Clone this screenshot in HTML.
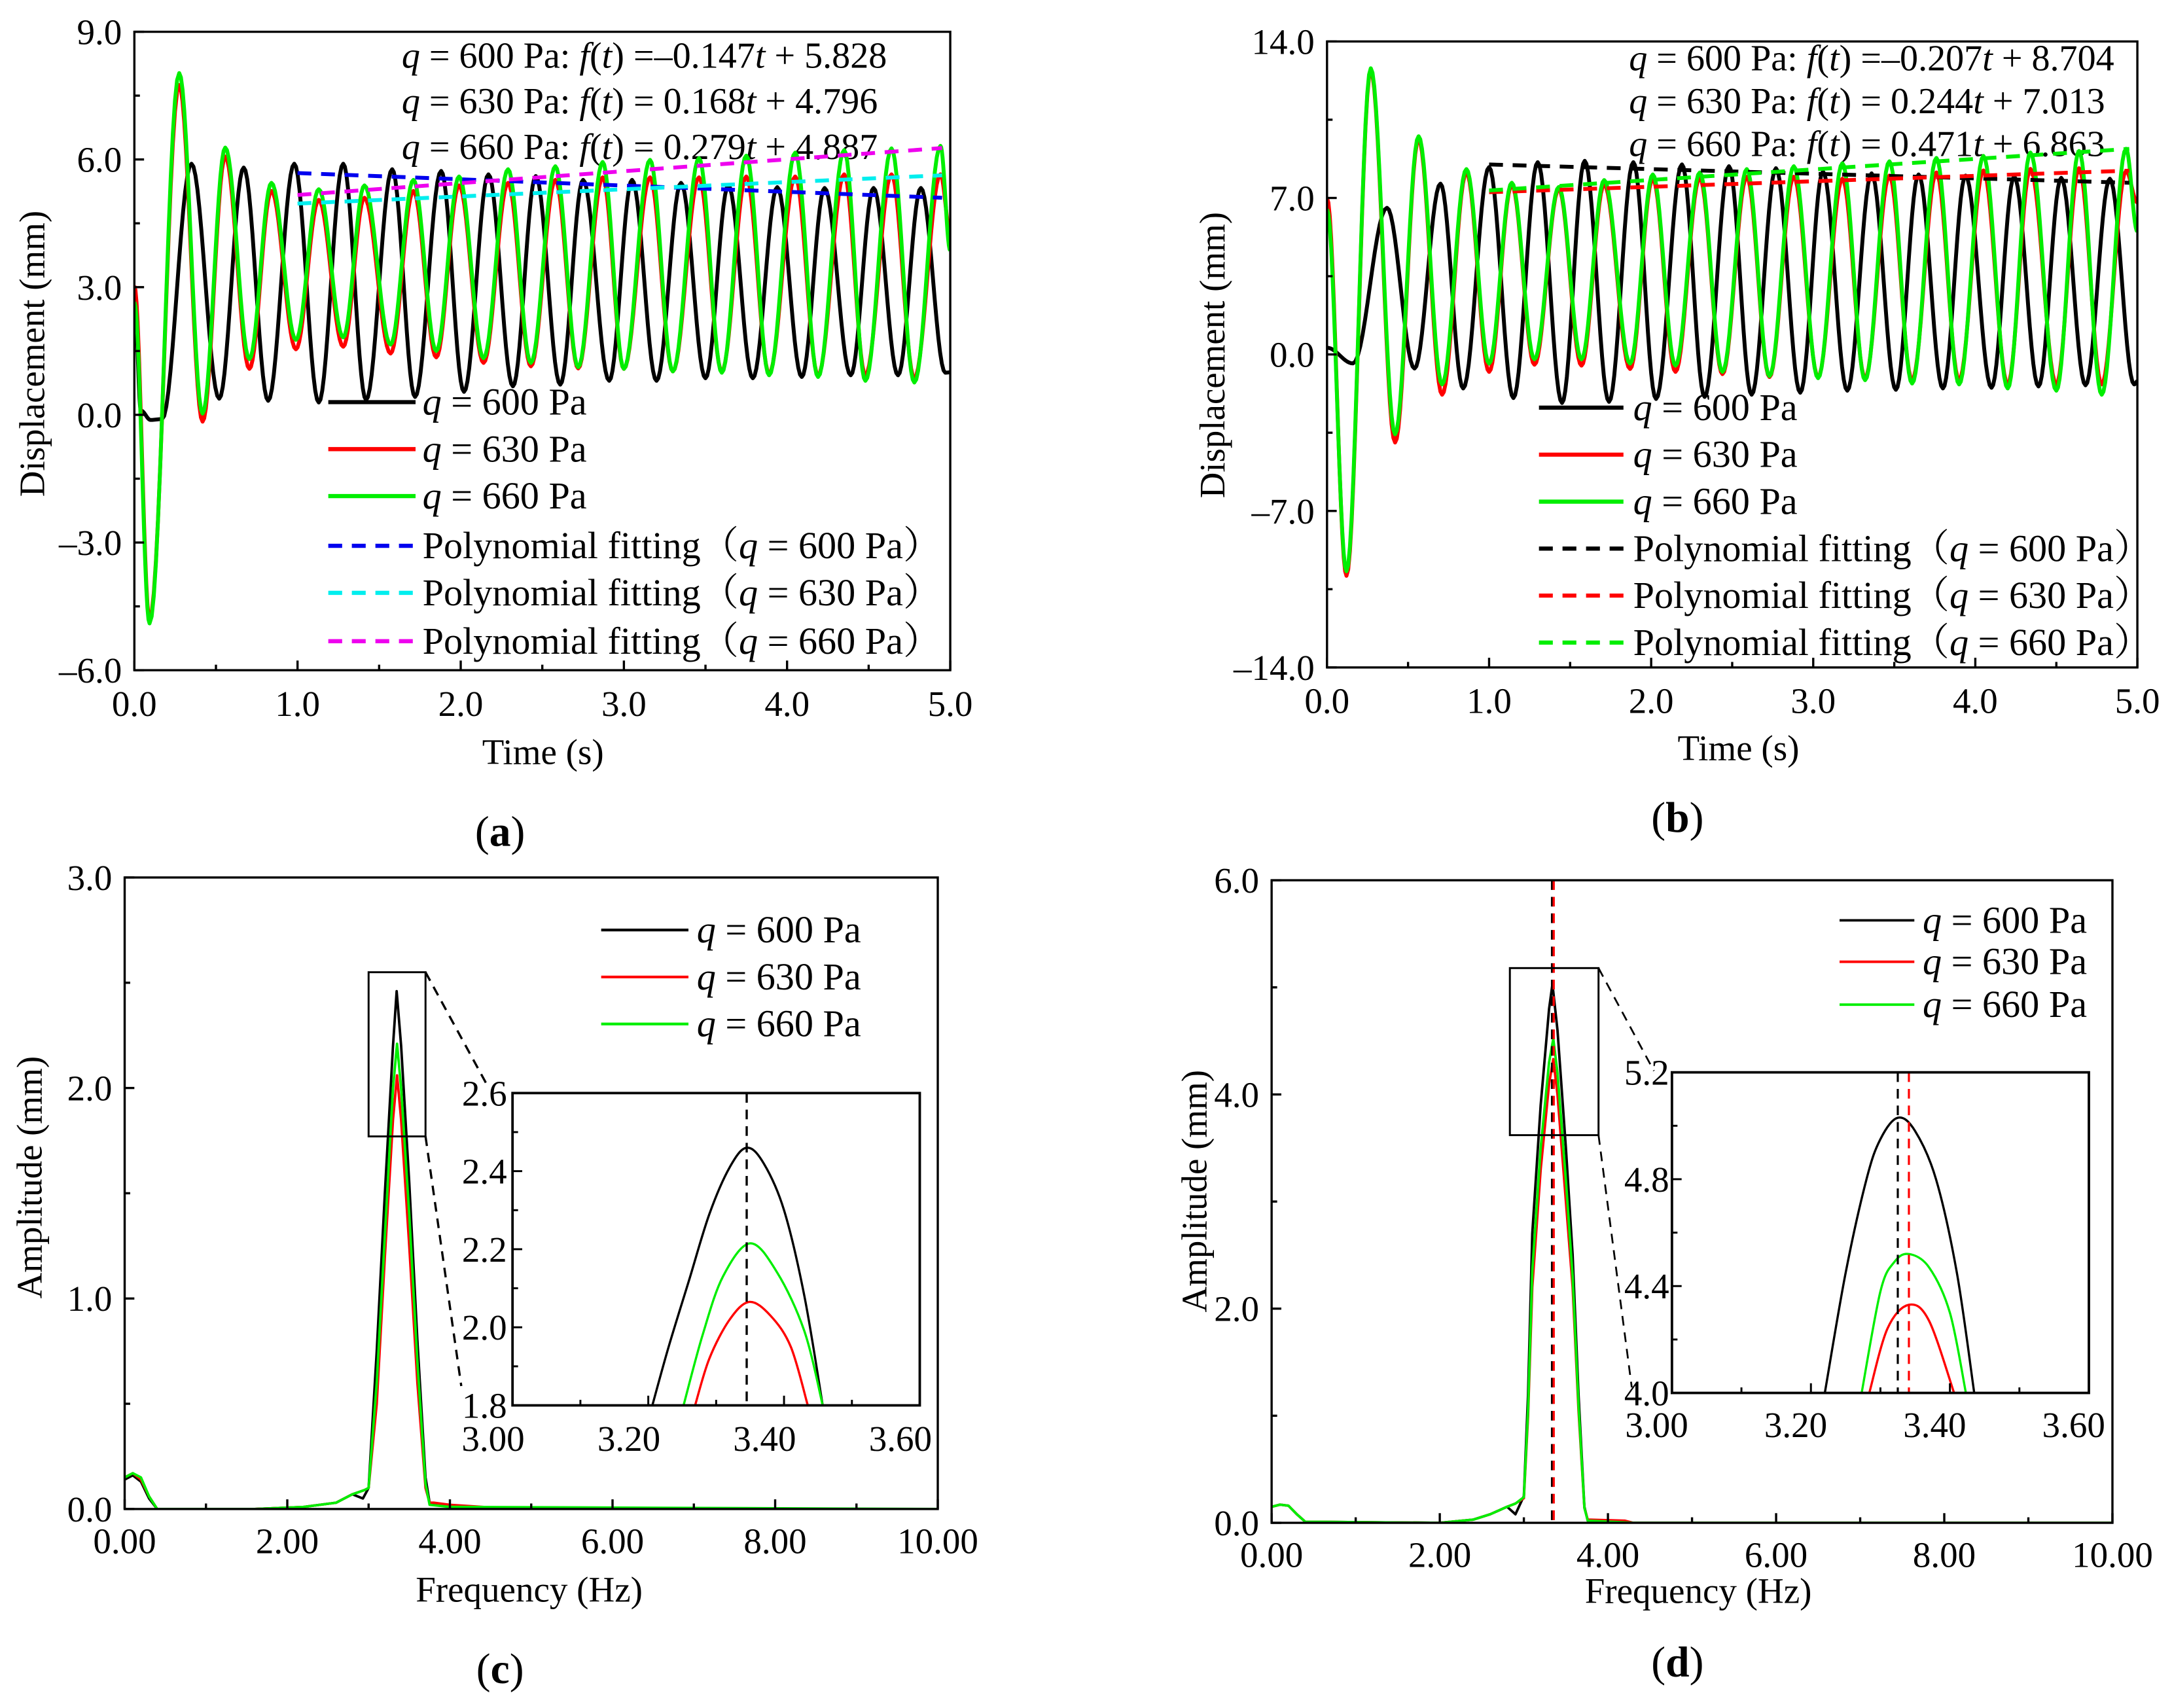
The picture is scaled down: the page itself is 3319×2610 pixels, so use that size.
<!DOCTYPE html>
<html><head><meta charset="utf-8">
<style>
html,body{margin:0;padding:0;background:#fff;}
svg{display:block;}
text{font-family:"Liberation Serif","Noto Serif CJK SC",serif;fill:#000;}
.tk{font-size:26px;}
.lg{font-size:27.5px;}
.eq{font-size:26.5px;}
.ttl{font-size:26px;}
.pl{font-size:31px;}
</style></head>
<body>
<svg id="fig" xmlns="http://www.w3.org/2000/svg" width="3319" height="2610" viewBox="0 0 1568 1236" preserveAspectRatio="none">
<rect x="0" y="0" width="1568" height="1236" fill="#fff"/>
<g>
<text class="ttl" transform="translate(32,256) rotate(-90)" text-anchor="middle">Displacement (mm)</text>
<text class="ttl" x="392" y="553" text-anchor="middle">Time (s)</text>
<text class="pl" x="361" y="612" text-anchor="middle">(<tspan font-weight="bold">a</tspan>)</text>
<text class="eq" x="290" y="49"><tspan font-style="italic">q</tspan> = 600 Pa: <tspan font-style="italic">f</tspan>(<tspan font-style="italic">t</tspan>) =–0.147<tspan font-style="italic">t</tspan> + 5.828</text>
<text class="eq" x="290" y="82"><tspan font-style="italic">q</tspan> = 630 Pa: <tspan font-style="italic">f</tspan>(<tspan font-style="italic">t</tspan>) = 0.168<tspan font-style="italic">t</tspan> + 4.796</text>
<text class="eq" x="290" y="115"><tspan font-style="italic">q</tspan> = 660 Pa: <tspan font-style="italic">f</tspan>(<tspan font-style="italic">t</tspan>) = 0.279<tspan font-style="italic">t</tspan> + 4.887</text>
</g>
<g>
<text class="ttl" transform="translate(884,257) rotate(-90)" text-anchor="middle">Displacement (mm)</text>
<text class="ttl" x="1255" y="550" text-anchor="middle">Time (s)</text>
<text class="pl" x="1211" y="602" text-anchor="middle">(<tspan font-weight="bold">b</tspan>)</text>
<text class="eq" x="1176" y="51"><tspan font-style="italic">q</tspan> = 600 Pa: <tspan font-style="italic">f</tspan>(<tspan font-style="italic">t</tspan>) =–0.207<tspan font-style="italic">t</tspan> + 8.704</text>
<text class="eq" x="1176" y="82"><tspan font-style="italic">q</tspan> = 630 Pa: <tspan font-style="italic">f</tspan>(<tspan font-style="italic">t</tspan>) = 0.244<tspan font-style="italic">t</tspan> + 7.013</text>
<text class="eq" x="1176" y="113"><tspan font-style="italic">q</tspan> = 660 Pa: <tspan font-style="italic">f</tspan>(<tspan font-style="italic">t</tspan>) = 0.471<tspan font-style="italic">t</tspan> + 6.863</text>
</g>
<g>
<text class="ttl" transform="translate(30,852) rotate(-90)" text-anchor="middle">Amplitude (mm)</text>
<text class="ttl" x="382" y="1159" text-anchor="middle">Frequency (Hz)</text>
<text class="pl" x="361" y="1218" text-anchor="middle">(<tspan font-weight="bold">c</tspan>)</text>
<text class="lg" x="410" y="891">3.35 Hz</text>
</g>
<g>
<text class="ttl" transform="translate(871,862) rotate(-90)" text-anchor="middle">Amplitude (mm)</text>
<text class="ttl" x="1226" y="1160" text-anchor="middle">Frequency (Hz)</text>
<text class="pl" x="1211" y="1213" text-anchor="middle">(<tspan font-weight="bold">d</tspan>)</text>
<text class="lg" x="1244" y="906">3.33 Hz</text>
<text class="lg" x="1418" y="900">3.34 Hz</text>
</g>
</svg>
<script>
// ---------- Panel (a) data ----------
const aXTicks = [0, 1, 2, 3, 4, 5];
const aYTicks = [-6, -3, 0, 3, 6, 9];
const aBlackT = [0,0.04,0.1,0.17,0.35,0.52,0.67,0.82,0.98,1.13,1.28,1.42,1.58,1.72,1.88,2.02,2.17,2.32,2.46,2.61,2.75,2.91,3.05,3.2,3.35,3.5,3.64,3.79,3.94,4.09,4.23,4.39,4.53,4.68,4.82,4.97,5.0];
const aBlackV = [2.9,0.1,-0.12,-0.1,5.9,0.38,5.81,0.33,5.9,0.29,5.9,0.35,5.77,0.42,5.73,0.54,5.65,0.67,5.61,0.71,5.52,0.8,5.52,0.8,5.45,0.86,5.39,0.86,5.35,0.89,5.33,0.93,5.33,0.93,5.33,0.99,1.0];
const aRgT = [0,0.093,0.275,0.418,0.557,0.705,0.84,0.99,1.13,1.28,1.41,1.57,1.71,1.85,1.99,2.14,2.29,2.43,2.58,2.72,2.87,3.0,3.16,3.3,3.46,3.6,3.75,3.89,4.05,4.19,4.35,4.48,4.64,4.78,4.94,5.0];
const aGreenV = [2.65,-4.9,8.03,0.03,6.28,1.31,5.45,1.76,5.3,1.82,5.39,1.65,5.52,1.5,5.6,1.33,5.77,1.22,5.84,1.12,5.94,1.08,5.99,1.02,6.03,0.99,6.09,0.93,6.16,0.89,6.22,0.8,6.26,0.76,6.32,3.86];
const aRedV = [3.03,-4.81,7.75,-0.16,6.07,1.08,5.26,1.54,5.05,1.6,5.1,1.44,5.26,1.35,5.39,1.22,5.45,1.14,5.52,1.09,5.58,1.08,5.58,1.02,5.58,1.02,5.6,0.97,5.6,0.93,5.65,0.93,5.65,0.86,5.65,4.3];
const aFitSlope = [-0.147, 0.168, 0.279];
const aFitIntercept = [5.828, 4.796, 4.887];
// ---------- Panel (b) data ----------
const bXTicks = [0, 1, 2, 3, 4, 5];
const bYTicks = [-14, -7, 0, 7, 14];
const bBlackT = [0,0.16,0.37,0.54,0.70,0.84,1.0,1.15,1.30,1.45,1.59,1.74,1.89,2.03,2.19,2.33,2.48,2.62,2.77,2.92,3.06,3.21,3.36,3.51,3.65,3.80,3.94,4.10,4.24,4.39,4.53,4.68,4.83,4.98,5.0];
const bBlackV = [0.3,-0.4,6.56,-0.63,7.64,-1.52,8.38,-1.95,8.6,-2.17,8.66,-2.12,8.6,-1.99,8.5,-1.9,8.42,-1.8,8.33,-1.71,8.18,-1.62,8.1,-1.58,8.05,-1.52,8.0,-1.49,7.96,-1.43,7.9,-1.38,7.86,-1.34,-1.2];
const bRgT = [0,0.12,0.27,0.42,0.565,0.71,0.86,1.0,1.14,1.28,1.43,1.57,1.71,1.87,2.01,2.15,2.30,2.44,2.59,2.73,2.88,3.03,3.18,3.32,3.47,3.61,3.76,3.90,4.05,4.20,4.34,4.50,4.64,4.78,4.93,5.0];
const bGreenV = [6.5,-9.7,12.8,-3.57,9.76,-1.34,8.29,-0.41,7.68,-0.22,7.49,-0.22,7.8,-0.41,8.05,-0.5,8.14,-0.78,8.29,-0.97,8.42,-1.06,8.55,-1.15,8.64,-1.3,8.79,-1.34,8.88,-1.52,9.03,-1.62,9.1,-1.8,9.2,5.5];
const bRedV = [7.0,-9.9,12.7,-3.94,9.63,-1.8,8.14,-0.78,7.58,-0.46,7.4,-0.5,7.6,-0.65,7.86,-0.78,7.9,-0.88,7.95,-1.01,7.95,-1.01,7.86,-1.06,8.0,-1.15,8.14,-1.15,8.23,-1.34,8.3,-1.34,8.33,-1.34,8.2,6.8];
const bFitSlope = [-0.207, 0.244, 0.471];
const bFitIntercept = [8.704, 7.013, 6.863];
// ---------- Panel (c) data ----------
const cXTicks = [0, 2, 4, 6, 8, 10];
const cYTicks = [0, 1, 2, 3];
const cBlackF = [0,0.1,0.2,0.3,0.4,1.6,2.2,2.6,2.8,2.93,3.0,3.1,3.2,3.3,3.345,3.4,3.5,3.6,3.7,3.75,4.0,4.5,10];
const cBlackA = [0.14,0.16,0.13,0.05,0,0,0.01,0.03,0.07,0.05,0.1,0.75,1.5,2.2,2.46,2.2,1.55,0.8,0.15,0.03,0.01,0,0];
const cRedF = [0,0.1,0.2,0.3,0.4,1.6,2.2,2.6,2.8,2.95,3.0,3.1,3.2,3.3,3.35,3.4,3.5,3.6,3.7,3.75,3.8,4.0,4.8,10];
const cRedA = [0.15,0.17,0.14,0.06,0,0,0.01,0.03,0.07,0.09,0.1,0.5,1.2,1.85,2.06,1.85,1.25,0.6,0.1,0.03,0.03,0.02,0,0];
const cGreenF = [0,0.1,0.2,0.3,0.4,1.6,2.2,2.6,2.8,2.95,3.0,3.1,3.2,3.3,3.35,3.4,3.5,3.6,3.7,3.75,4.0,10];
const cGreenA = [0.15,0.17,0.15,0.06,0,0,0.01,0.03,0.07,0.09,0.1,0.6,1.3,2.0,2.21,2.0,1.4,0.7,0.12,0.02,0.01,0];
const ciXTicks = [3.0, 3.2, 3.4, 3.6];
const ciYTicks = [1.8, 2.0, 2.2, 2.4, 2.6];
const ciBlackF = [3.206,3.23,3.26,3.29,3.32,3.345,3.37,3.40,3.43,3.457];
const ciBlackA = [1.8,1.95,2.12,2.29,2.41,2.46,2.42,2.3,2.08,1.8];
const ciGreenF = [3.252,3.28,3.31,3.35,3.39,3.43,3.457];
const ciGreenA = [1.8,1.98,2.13,2.215,2.14,1.99,1.8];
const ciRedF = [3.269,3.29,3.32,3.349,3.38,3.41,3.435];
const ciRedA = [1.8,1.92,2.02,2.065,2.03,1.95,1.8];
const cPeakF = [3.345];
// ---------- Panel (d) data ----------
const dXTicks = [0, 2, 4, 6, 8, 10];
const dYTicks = [0, 2, 4, 6];
const dBlackF = [0,0.1,0.2,0.3,0.4,2.0,2.4,2.6,2.8,2.9,3.0,3.05,3.1,3.2,3.3,3.34,3.4,3.5,3.58,3.65,3.72,3.76,4.2,4.3,10];
const dBlackA = [0.15,0.17,0.16,0.08,0.01,0,0.03,0.08,0.15,0.08,0.25,1.2,2.7,3.9,4.8,5.03,4.6,3.5,2.5,1.2,0.15,0.02,0.01,0,0];
const dRedF = [0,0.1,0.2,0.3,0.4,2.0,2.4,2.6,2.8,2.9,3.0,3.05,3.1,3.2,3.3,3.35,3.4,3.5,3.58,3.65,3.72,3.76,4.2,4.3,10];
const dRedA = [0.15,0.17,0.16,0.08,0.01,0,0.03,0.08,0.15,0.18,0.23,1.0,2.2,3.3,4.1,4.33,4.0,3.0,2.2,1.05,0.14,0.03,0.02,0,0];
const dGreenF = [0,0.1,0.2,0.3,0.4,2.0,2.4,2.6,2.8,2.9,3.0,3.05,3.1,3.2,3.3,3.35,3.4,3.5,3.58,3.65,3.72,3.76,4.3,10];
const dGreenA = [0.15,0.17,0.16,0.08,0.01,0,0.03,0.08,0.15,0.18,0.24,1.05,2.35,3.5,4.3,4.52,4.2,3.2,2.3,1.1,0.14,0.02,0,0];
const diXTicks = [3.0, 3.2, 3.4, 3.6];
const diYTicks = [4.0, 4.4, 4.8, 5.2];
const diBlackF = [3.22,3.25,3.28,3.30,3.325,3.35,3.38,3.41,3.435];
const diBlackA = [4.0,4.45,4.8,4.95,5.03,4.98,4.8,4.45,4.0];
const diGreenF = [3.273,3.30,3.32,3.341,3.37,3.40,3.423];
const diGreenA = [4.0,4.38,4.49,4.52,4.47,4.3,4.0];
const diRedF = [3.284,3.31,3.341,3.37,3.406];
const diRedA = [4.0,4.24,4.33,4.27,4.0];
const dPeakF = [3.325, 3.341];
const dMainPeakF = [3.335, 3.355];

const NS = 'http://www.w3.org/2000/svg';
const svg = document.getElementById('fig');
function mk(tag, attrs, parent) {
  const e = document.createElementNS(NS, tag);
  for (const k in attrs) e.setAttribute(k, attrs[k]);
  (parent || svg).appendChild(e);
  return e;
}
function axes(x0, x1, y0, y1, xmin, xmax, ymin, ymax) {
  return {x0, x1, y0, y1,
    sx: v => x0 + (v - xmin) / (xmax - xmin) * (x1 - x0),
    sy: v => y1 - (v - ymin) / (ymax - ymin) * (y1 - y0)};
}
function frame(ax, name, sw) {
  const r = mk('rect', {x: ax.x0, y: ax.y0, width: ax.x1 - ax.x0, height: ax.y1 - ax.y0, fill: 'none', stroke: '#000', 'stroke-width': sw});
  
  
}
function ticks(ax, xt, yt, xfmt, yfmt, opt) {
  const g = mk('g', {});
  
  
  const sw = opt.sw;
  xt.forEach((v, i) => {
    const x = ax.sx(v);
    mk('line', {x1: x, x2: x, y1: ax.y1, y2: ax.y1 - 7, stroke: '#000', 'stroke-width': sw}, g);
    if (i < xt.length - 1) {
      const xm = ax.sx((v + xt[i + 1]) / 2);
      mk('line', {x1: xm, x2: xm, y1: ax.y1, y2: ax.y1 - 4, stroke: '#000', 'stroke-width': sw}, g);
    }
    const t = mk('text', {x: x + (opt.xdx || 0), y: ax.y1 + (opt.xdy || 33), 'text-anchor': 'middle', class: 'tk'}, g);
    t.textContent = xfmt(v);
    
    
  });
  yt.forEach((v, i) => {
    const y = ax.sy(v);
    mk('line', {x1: ax.x0, x2: ax.x0 + 7, y1: y, y2: y, stroke: '#000', 'stroke-width': sw}, g);
    if (i < yt.length - 1) {
      const ym = ax.sy((v + yt[i + 1]) / 2);
      mk('line', {x1: ax.x0, x2: ax.x0 + 4, y1: ym, y2: ym, stroke: '#000', 'stroke-width': sw}, g);
    }
    const t = mk('text', {x: ax.x0 - (opt.ydx || 9), y: y + 9, 'text-anchor': 'end', class: 'tk'}, g);
    t.textContent = yfmt(v);
    
    
  });
}
function cosPath(ax, ts, vs) {
  let d = 'M' + ax.sx(ts[0]).toFixed(2) + ',' + ax.sy(vs[0]).toFixed(2);
  for (let i = 0; i < ts.length - 1; i++) {
    for (let k = 1; k <= 14; k++) {
      const u = k / 14;
      const t = ts[i] + (ts[i + 1] - ts[i]) * u;
      const v = vs[i] + (vs[i + 1] - vs[i]) * (1 - Math.cos(Math.PI * u)) / 2;
      d += 'L' + ax.sx(t).toFixed(2) + ',' + ax.sy(v).toFixed(2);
    }
  }
  return d;
}
function linPath(ax, xs, ys) {
  return xs.map((x, i) => (i ? 'L' : 'M') + ax.sx(x).toFixed(2) + ',' + ax.sy(ys[i]).toFixed(2)).join('');
}
function smoothPath(ax, xs, ys) {
  const P = xs.map((x, i) => [ax.sx(x), ax.sy(ys[i])]);
  let d = 'M' + P[0][0] + ',' + P[0][1];
  for (let i = 0; i < P.length - 1; i++) {
    const p0 = P[Math.max(0, i - 1)], p1 = P[i], p2 = P[i + 1], p3 = P[Math.min(P.length - 1, i + 2)];
    const c1 = [p1[0] + (p2[0] - p0[0]) / 6, p1[1] + (p2[1] - p0[1]) / 6];
    const c2 = [p2[0] - (p3[0] - p1[0]) / 6, p2[1] - (p3[1] - p1[1]) / 6];
    d += 'C' + c1[0] + ',' + c1[1] + ' ' + c2[0] + ',' + c2[1] + ' ' + p2[0] + ',' + p2[1];
  }
  return d;
}
function clip(id, ax) {
  const cp = mk('clipPath', {id: id});
  mk('rect', {x: ax.x0, y: ax.y0, width: ax.x1 - ax.x0, height: ax.y1 - ax.y0}, cp);
}
function legendRow(x1, x2, tx, y, color, dash, sw, label, name) {
  const ln = mk('line', {x1: x1, x2: x2, y1: y, y2: y, stroke: color, 'stroke-width': sw});
  if (dash) ln.setAttribute('stroke-dasharray', dash);
  
  
  const t = mk('text', {x: tx, y: y + 9, class: 'lg'});
  
  
  const parts = label.split('q');
  t.appendChild(document.createTextNode(parts[0]));
  const q = mk('tspan', {'font-style': 'italic'}, t);
  q.textContent = 'q';
  t.appendChild(document.createTextNode(parts[1]));
}
const f1 = v => (v < 0 ? '–' + Math.abs(v).toFixed(1) : v.toFixed(1));
const f2 = v => v.toFixed(2);

// ================= Panel (a) =================
const A = axes(97, 686, 23, 485, 0, 5, -6, 9);
clip('clipA', A);
const aSeries = [[aBlackT, aBlackV, '#000', 'a-series-600'], [aRgT, aRedV, '#ff0000', 'a-series-630'], [aRgT, aGreenV, '#00ee00', 'a-series-660']];
aSeries.forEach(s => {
  const p = mk('path', {d: cosPath(A, s[0], s[1]), fill: 'none', stroke: s[2], 'stroke-width': 2.8, 'clip-path': 'url(#clipA)', 'stroke-linejoin': 'round'});
  
  
});
const aFitColors = ['#0000ee', '#00eeee', '#ee00ee'];
aFitSlope.forEach((m, i) => {
  const ln = mk('line', {x1: A.sx(1), y1: A.sy(m * 1 + aFitIntercept[i]), x2: A.sx(4.95), y2: A.sy(m * 4.95 + aFitIntercept[i]), stroke: aFitColors[i], 'stroke-width': 2.8, 'stroke-dasharray': '10,7'});
  
  
});
frame(A, 'a-plot-frame', 1.6);
ticks(A, aXTicks, aYTicks, f1, f1, {name: 'a', sw: 1.6, xdy: 33, ydx: 9});
const aLegY = [291, 325, 359, 395, 429, 464];
legendRow(237, 300, 305, aLegY[0], '#000', null, 3, 'q = 600 Pa', 'a-legend-600');
legendRow(237, 300, 305, aLegY[1], '#ff0000', null, 3, 'q = 630 Pa', 'a-legend-630');
legendRow(237, 300, 305, aLegY[2], '#00ee00', null, 3, 'q = 660 Pa', 'a-legend-660');
legendRow(237, 300, 305, aLegY[3], '#0000ee', '10,7', 3, 'Polynomial fitting（q = 600 Pa）', 'a-legend-fit-600');
legendRow(237, 300, 305, aLegY[4], '#00eeee', '10,7', 3, 'Polynomial fitting（q = 630 Pa）', 'a-legend-fit-630');
legendRow(237, 300, 305, aLegY[5], '#ee00ee', '10,7', 3, 'Polynomial fitting（q = 660 Pa）', 'a-legend-fit-660');

// ================= Panel (b) =================
const B = axes(958, 1543, 30, 483, 0, 5, -14, 14);
clip('clipB', B);
const bSeries = [[bBlackT, bBlackV, '#000', 'b-series-600'], [bRgT, bRedV, '#ff0000', 'b-series-630'], [bRgT, bGreenV, '#00ee00', 'b-series-660']];
bSeries.forEach(s => {
  const p = mk('path', {d: cosPath(B, s[0], s[1]), fill: 'none', stroke: s[2], 'stroke-width': 2.8, 'clip-path': 'url(#clipB)', 'stroke-linejoin': 'round'});
  
  
});
const bFitColors = ['#000', '#ff0000', '#00ee00'];
bFitSlope.forEach((m, i) => {
  const ln = mk('line', {x1: B.sx(1), y1: B.sy(m * 1 + bFitIntercept[i]), x2: B.sx(4.95), y2: B.sy(m * 4.95 + bFitIntercept[i]), stroke: bFitColors[i], 'stroke-width': 2.8, 'stroke-dasharray': '10,7'});
  
  
});
frame(B, 'b-plot-frame', 1.6);
ticks(B, bXTicks, bYTicks, f1, f1, {name: 'b', sw: 1.6, xdy: 33, ydx: 9});
const bLegY = [295, 329, 363, 397, 431, 465];
legendRow(1111, 1172, 1179, bLegY[0], '#000', null, 3, 'q = 600 Pa', 'b-legend-600');
legendRow(1111, 1172, 1179, bLegY[1], '#ff0000', null, 3, 'q = 630 Pa', 'b-legend-630');
legendRow(1111, 1172, 1179, bLegY[2], '#00ee00', null, 3, 'q = 660 Pa', 'b-legend-660');
legendRow(1111, 1172, 1179, bLegY[3], '#000', '10,7', 3, 'Polynomial fitting（q = 600 Pa）', 'b-legend-fit-600');
legendRow(1111, 1172, 1179, bLegY[4], '#ff0000', '10,7', 3, 'Polynomial fitting（q = 630 Pa）', 'b-legend-fit-630');
legendRow(1111, 1172, 1179, bLegY[5], '#00ee00', '10,7', 3, 'Polynomial fitting（q = 660 Pa）', 'b-legend-fit-660');

// ================= Panel (c) =================
const C = axes(90, 677, 635, 1092, 0, 10, 0, 3);
clip('clipC', C);
[[cBlackF, cBlackA, '#000', 'c-series-600'], [cRedF, cRedA, '#ff0000', 'c-series-630'], [cGreenF, cGreenA, '#00ee00', 'c-series-660']].forEach(s => {
  const p = mk('path', {d: linPath(C, s[0], s[1]), fill: 'none', stroke: s[2], 'stroke-width': 1.8, 'clip-path': 'url(#clipC)', 'stroke-linejoin': 'round'});
  
  
});
frame(C, 'c-plot-frame', 1.6);
ticks(C, cXTicks, cYTicks, f2, f1, {name: 'c', sw: 1.6, xdy: 32, ydx: 9});
const cZoom = mk('rect', {x: C.sx(3.0), y: C.sy(2.55), width: C.sx(3.7) - C.sx(3.0), height: C.sy(1.77) - C.sy(2.55), fill: 'none', stroke: '#000', 'stroke-width': 1.4});


const CI = axes(370, 664, 791, 1017, 3.0, 3.6, 1.8, 2.6);
clip('clipCI', CI);
const cc1 = mk('line', {x1: C.sx(3.7), y1: C.sy(2.55), x2: 351, y2: 784, stroke: '#000', 'stroke-width': 1.6, 'stroke-dasharray': '7,5'});


const cc2 = mk('line', {x1: C.sx(3.7), y1: C.sy(1.77), x2: 333, y2: 1003, stroke: '#000', 'stroke-width': 1.6, 'stroke-dasharray': '7,5'});


mk('rect', {x: CI.x0, y: CI.y0, width: CI.x1 - CI.x0, height: CI.y1 - CI.y0, fill: '#fff'});
[[ciBlackF, ciBlackA, '#000', 'c-inset-series-600'], [ciRedF, ciRedA, '#ff0000', 'c-inset-series-630'], [ciGreenF, ciGreenA, '#00ee00', 'c-inset-series-660']].forEach(s => {
  const p = mk('path', {d: smoothPath(CI, s[0], s[1]), fill: 'none', stroke: s[2], 'stroke-width': 1.6, 'clip-path': 'url(#clipCI)'});
  
  
});
cPeakF.forEach(f => {
  const ln = mk('line', {x1: CI.sx(f), x2: CI.sx(f), y1: CI.y0, y2: CI.y1, stroke: '#000', 'stroke-width': 1.6, 'stroke-dasharray': '7,5'});
  
  
});
frame(CI, 'c-inset-frame', 1.8);
ticks(CI, ciXTicks, ciYTicks, f2, f1, {name: 'c-inset', sw: 1.4, xdy: 33, xdx: -14, ydx: 4});
const cLegY = [673, 707, 741];
legendRow(434, 497, 503, cLegY[0], '#000', null, 2, 'q = 600 Pa', 'c-legend-600');
legendRow(434, 497, 503, cLegY[1], '#ff0000', null, 2, 'q = 630 Pa', 'c-legend-630');
legendRow(434, 497, 503, cLegY[2], '#00ee00', null, 2, 'q = 660 Pa', 'c-legend-660');

// ================= Panel (d) =================
const D = axes(918, 1525, 637, 1102, 0, 10, 0, 6);
clip('clipD', D);
[[dBlackF, dBlackA, '#000', 'd-series-600'], [dRedF, dRedA, '#ff0000', 'd-series-630'], [dGreenF, dGreenA, '#00ee00', 'd-series-660']].forEach(s => {
  const p = mk('path', {d: linPath(D, s[0], s[1]), fill: 'none', stroke: s[2], 'stroke-width': 1.8, 'clip-path': 'url(#clipD)', 'stroke-linejoin': 'round'});
  
  
});
const dPeakColors = ['#000', '#ff0000'];
dMainPeakF.forEach((f, i) => {
  const ln = mk('line', {x1: D.sx(f), x2: D.sx(f), y1: D.y0, y2: D.y1, stroke: dPeakColors[i], 'stroke-width': 1.6, 'stroke-dasharray': '7,5'});
  
  
});
frame(D, 'd-plot-frame', 1.6);
ticks(D, dXTicks, dYTicks, f2, f1, {name: 'd', sw: 1.6, xdy: 32, ydx: 9});
const dZoom = mk('rect', {x: 1090, y: D.sy(5.18), width: 64, height: D.sy(3.62) - D.sy(5.18), fill: 'none', stroke: '#000', 'stroke-width': 1.4});


const DI = axes(1207, 1508, 776, 1008, 3.0, 3.6, 4.0, 5.2);
clip('clipDI', DI);
const dc1 = mk('line', {x1: 1154, y1: D.sy(5.18), x2: 1194, y2: 775, stroke: '#000', 'stroke-width': 1.3, 'stroke-dasharray': '7,5'});


const dc2 = mk('line', {x1: 1154, y1: D.sy(3.62), x2: 1178, y2: 1004, stroke: '#000', 'stroke-width': 1.3, 'stroke-dasharray': '7,5'});


mk('rect', {x: DI.x0, y: DI.y0, width: DI.x1 - DI.x0, height: DI.y1 - DI.y0, fill: '#fff'});
[[diBlackF, diBlackA, '#000', 'd-inset-series-600'], [diRedF, diRedA, '#ff0000', 'd-inset-series-630'], [diGreenF, diGreenA, '#00ee00', 'd-inset-series-660']].forEach(s => {
  const p = mk('path', {d: smoothPath(DI, s[0], s[1]), fill: 'none', stroke: s[2], 'stroke-width': 1.6, 'clip-path': 'url(#clipDI)'});
  
  
});
dPeakF.forEach((f, i) => {
  const ln = mk('line', {x1: DI.sx(f), x2: DI.sx(f), y1: DI.y0, y2: DI.y1, stroke: dPeakColors[i], 'stroke-width': 1.5, 'stroke-dasharray': '7,5'});
  
  
});
frame(DI, 'd-inset-frame', 1.8);
ticks(DI, diXTicks, diYTicks, f2, f1, {name: 'd-inset', sw: 1.4, xdy: 32, xdx: -11, ydx: 2});
const dLegY = [666, 696, 727];
legendRow(1328, 1382, 1388, dLegY[0], '#000', null, 1.8, 'q = 600 Pa', 'd-legend-600');
legendRow(1328, 1382, 1388, dLegY[1], '#ff0000', null, 1.8, 'q = 630 Pa', 'd-legend-630');
legendRow(1328, 1382, 1388, dLegY[2], '#00ee00', null, 1.8, 'q = 660 Pa', 'd-legend-660');
</script>
</body></html>
